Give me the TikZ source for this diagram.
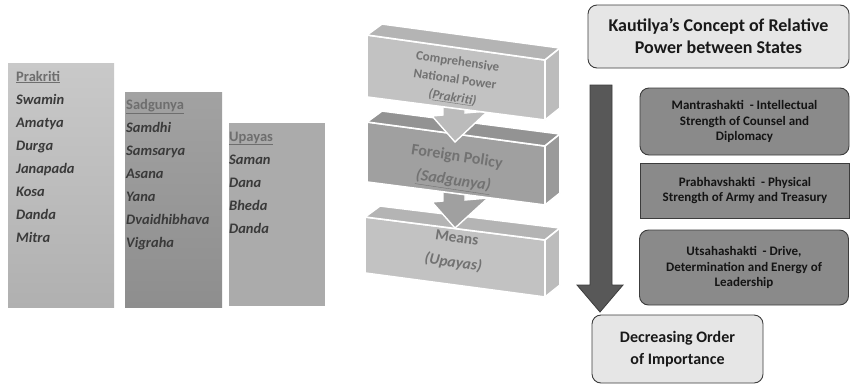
\documentclass[tikz,border=0pt]{standalone}
\usepackage{fontspec}
\setmainfont{Carlito}
\definecolor{pkTop}{HTML}{C9C9C9}
\definecolor{pkBot}{HTML}{B0B0B0}
\definecolor{sgTop}{HTML}{A2A2A2}
\definecolor{sgBot}{HTML}{8E8E8E}
\definecolor{upFill}{HTML}{ABABAB}
\definecolor{hdrCol}{HTML}{6E6E6E}
\definecolor{itemCol}{HTML}{3A3A3A}
\definecolor{lightBox}{HTML}{C2C2C2}
\definecolor{lightTop}{HTML}{B4B4B4}
\definecolor{lightSide}{HTML}{BCBCBC}
\definecolor{darkBox}{HTML}{A0A0A0}
\definecolor{darkTop}{HTML}{939393}
\definecolor{darkSide}{HTML}{9A9A9A}
\definecolor{boxText}{HTML}{727272}
\definecolor{paleFill}{HTML}{E6E6E6}
\definecolor{midFill}{HTML}{8A8A8A}
\definecolor{edgeCol}{HTML}{3C3C3C}
\definecolor{bigArrow}{HTML}{585858}
\begin{document}
\begin{tikzpicture}[x=1pt,y=-1pt,
  hdr/.style={anchor=base west,inner sep=0pt,text=hdrCol,font=\fontsize{14.5}{17}\selectfont\bfseries},
  itm/.style={anchor=base west,inner sep=0pt,text=itemCol,font=\fontsize{14.5}{17}\selectfont\bfseries\itshape},
  facewhite/.style={draw=white,line width=1.6pt,line join=round},
  boxlabel/.style={text=boxText,rotate=-8.5,align=center,inner sep=0pt},
  palebox/.style={draw=edgeCol,line width=0.9pt,fill=paleFill,rounded corners=9pt,align=center,
     text=black!90},
  midbox/.style={draw=edgeCol,line width=0.9pt,fill=midFill,align=center,
     font=\fontsize{13}{15.5}\selectfont\bfseries,text=black!92,minimum width=209pt},
  flowarrow/.style={draw=white,line width=1.4pt,line join=miter}
]
\useasboundingbox (0,0) rectangle (850,386);
\fill[white] (0,0) rectangle (850,386);

% ---------- left columns ----------
\shade[top color=pkTop,bottom color=pkBot] (8,63) rectangle (114,307);
\shade[top color=sgTop,bottom color=sgBot] (125,92) rectangle (222,307);
\fill[upFill] (229,123) rectangle (325,306);

\node[hdr] (pkh) at (16,81) {\underline{Prakriti}};
\foreach \t [count=\i] in {Swamin,Amatya,Durga,Janapada,Kosa,Danda,Mitra}
  \node[itm] (pk\i) at (16,81+23*\i) {\t};

\node[hdr] (sgh) at (126,109) {\underline{Sadgunya}};
\foreach \t [count=\i] in {Samdhi,Samsarya,Asana,Yana,Dvaidhibhava,Vigraha}
  \node[itm] (sg\i) at (126,109+23.1*\i) {\t};

\node[hdr] (uph) at (229,141) {\underline{Upayas}};
\foreach \t [count=\i] in {Saman,Dana,Bheda,Danda}
  \node[itm] (up\i) at (229,141+23*\i) {\t};

% ---------- 3D stack ----------
% bottom box (Means)
\filldraw[facewhite,fill=lightBox] (365,217) -- (545,240) -- (545,297) -- (365,273) -- cycle;
\filldraw[facewhite,fill=lightTop] (365,217) -- (380,206) -- (560,228) -- (545,240) -- cycle;
\filldraw[facewhite,fill=lightSide] (545,240) -- (560,228) -- (560,285) -- (545,297) -- cycle;
% arrow 2
\filldraw[flowarrow,fill=darkBox] (443,188) -- (465,188) -- (465,200) -- (488,198) -- (455,228)
   -- (432,202) -- (443,201) -- cycle;
% middle box (Foreign Policy)
\filldraw[facewhite,fill=darkBox] (367,122) -- (545,146) -- (545,205) -- (367,182) -- cycle;
\filldraw[facewhite,fill=darkTop] (367,122) -- (382,111) -- (560,134) -- (545,146) -- cycle;
\filldraw[facewhite,fill=darkSide] (545,146) -- (560,134) -- (560,193) -- (545,205) -- cycle;
% arrow 1
\filldraw[flowarrow,fill=lightBox!80!darkBox] (443,100) -- (465,100) -- (465,113) -- (488,111) -- (455,142)
   -- (432,116) -- (443,115) -- cycle;
% top box (Comprehensive National Power)
\filldraw[facewhite,fill=lightBox] (367,35) -- (545,60) -- (545,120) -- (367,97) -- cycle;
\filldraw[facewhite,fill=lightTop] (367,35) -- (382,24) -- (560,48) -- (545,60) -- cycle;
\filldraw[facewhite,fill=lightSide] (545,60) -- (560,48) -- (560,108) -- (545,120) -- cycle;

\node[boxlabel,font=\fontsize{13}{18}\selectfont\bfseries] (cnp) at (455,80)
  {Comprehensive\\National Power\\\textit{(\underline{Prakriti})}};
\node[boxlabel,font=\fontsize{16}{24}\selectfont\bfseries] (fp) at (455,170)
  {Foreign Policy\\\textit{\underline{(Sadgunya)}}};
\node[boxlabel,font=\fontsize{15.5}{25}\selectfont\bfseries] (mn) at (455,251)
  {Means\\\textit{(Upayas)}};

% ---------- right panel ----------
\node[palebox,minimum width=261pt,minimum height=63pt,font=\fontsize{18}{22}\selectfont\bfseries] (kc) at (718.5,36.5)
  {Kautilya’s Concept of Relative\\Power between States};

\filldraw[fill=bigArrow,draw=edgeCol,line width=0.8pt,line join=miter]
  (590,85) -- (612,85) -- (612,285) -- (623,285) -- (600,312) -- (577,285) -- (590,285) -- cycle;

\node[midbox,rounded corners=9pt,minimum height=67pt] (ms) at (744.5,121.5)
  {Mantrashakti\ \ - Intellectual\\Strength of Counsel and\\Diplomacy};
\node[midbox,minimum height=55pt] (ps) at (745,190.5)
  {Prabhavshakti\ \ - Physical\\Strength of Army and Treasury};
\node[midbox,rounded corners=9pt,minimum height=75pt] (us) at (744,267.5)
  {Utsahashakti\ \ - Drive,\\Determination and Energy of\\Leadership};

\node[palebox,minimum width=171pt,minimum height=68pt,font=\fontsize{16}{22}\selectfont\bfseries] (doi) at (677.5,349)
  {Decreasing Order\\of Importance};
\end{tikzpicture}
\end{document}
